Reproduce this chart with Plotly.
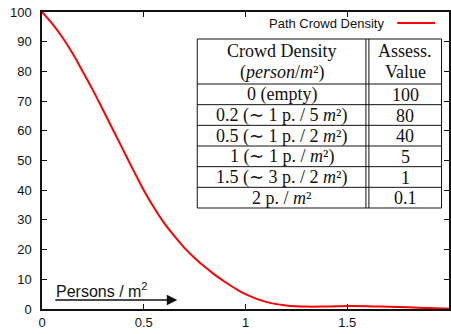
import plotly.graph_objects as go

# Assessment curve: crowd density (persons / m^2) -> assessment value,
# read at regular density steps (passes through the table's anchor values).
density = [0, 0.05, 0.1, 0.15, 0.2, 0.25, 0.3, 0.35, 0.4, 0.45, 0.5, 0.55, 0.6,
           0.65, 0.7, 0.75, 0.8, 0.85, 0.9, 0.95, 1.0, 1.1, 1.2, 1.3, 1.4, 1.5,
           1.6, 1.7, 1.8, 1.9, 2.0]
assess_value = [100, 96.1, 91.5, 86.1, 80, 73.7, 67.0, 60.2, 53.4, 46.6, 40, 34.2, 29.0,
                24.6, 20.6, 17.2, 14.2, 11.5, 9.1, 6.9, 5, 2.4, 1.2, 0.8, 0.85, 1,
                0.95, 0.75, 0.55, 0.3, 0.1]

# Lookup table shown inside the plot
table_header_left = ["Crowd Density", "(<i>person</i>/<i>m</i>²)"]
table_header_right = ["Assess.", "Value"]
table_density = [
    "0 (empty)",
    "0.2 (∼ 1 p. / 5 <i>m</i>²)",
    "0.5 (∼ 1 p. / 2 <i>m</i>²)",
    "1 (∼ 1 p. / <i>m</i>²)",
    "1.5 (∼ 3 p. / 2 <i>m</i>²)",
    "2 p. / <i>m</i>²",
]
table_values = ["100", "80", "40", "5", "1", "0.1"]

x_ticks = [0, 0.5, 1, 1.5]
x_tick_text = ["0", "0.5", "1", "1.5"]
y_ticks = list(range(0, 101, 10))

series_name = "Path Crowd Density"
x_caption = "Persons / m<sup>2</sup>"

W, H = 451, 334
ML, MR, MT, MB = 42, 0, 12, 25
PW, PH = W - ML - MR, H - MT - MB


def px(x):
    return (x - ML) / PW


def py(y):
    return (H - MB - y) / PH


fig = go.Figure()
fig.add_trace(go.Scatter(
    x=density, y=assess_value, mode="lines",
    line=dict(color="#ff0000", width=2, shape="spline", smoothing=1.0),
    name=series_name, showlegend=False, hoverinfo="x+y",
))

shapes = []
annotations = []

# Key: label on the left, line sample on the right
annotations.append(dict(
    xref="paper", yref="paper", x=px(388), y=py(23),
    xanchor="right", yanchor="middle", showarrow=False,
    text=series_name, font=dict(family="Liberation Sans, Arial", size=13, color="#111"),
))
shapes.append(dict(
    type="line", xref="paper", yref="paper",
    x0=px(399), x1=px(437), y0=py(23), y1=py(23),
    line=dict(color="#ff0000", width=2),
))

# Table frame
t_left, t_right = 198, 443.5
t_split_a, t_split_b = 367.5, 370.5
t_top, t_head, t_bottom = 39, 84, 208
n_rows = len(table_density)
row_h = (t_bottom - t_head) / n_rows
line_style = dict(color="#111", width=1)
shapes.append(dict(type="rect", xref="paper", yref="paper",
                   x0=px(t_left), x1=px(t_right), y0=py(t_bottom), y1=py(t_top),
                   line=line_style))
for xs in (t_split_a, t_split_b):
    shapes.append(dict(type="line", xref="paper", yref="paper",
                       x0=px(xs), x1=px(xs), y0=py(t_bottom), y1=py(t_top),
                       line=line_style))
for i in range(n_rows):
    yl = t_head + i * row_h
    shapes.append(dict(type="line", xref="paper", yref="paper",
                       x0=px(t_left), x1=px(t_right), y0=py(yl), y1=py(yl),
                       line=line_style))

serif = dict(family="Liberation Serif, Times New Roman, serif", size=18, color="#111")
c_left = (t_left + t_split_a) / 2
c_right = (t_split_b + t_right) / 2
head_lines_y = [51, 72]
for txt, yy in zip(table_header_left, head_lines_y):
    annotations.append(dict(xref="paper", yref="paper", x=px(c_left), y=py(yy),
                            xanchor="center", yanchor="middle", showarrow=False,
                            text=txt, font=serif))
for txt, yy in zip(table_header_right, head_lines_y):
    annotations.append(dict(xref="paper", yref="paper", x=px(c_right), y=py(yy),
                            xanchor="center", yanchor="middle", showarrow=False,
                            text=txt, font=serif))
for i, (dtxt, vtxt) in enumerate(zip(table_density, table_values)):
    yc = t_head + (i + 0.5) * row_h + 0.5
    annotations.append(dict(xref="paper", yref="paper", x=px(c_left), y=py(yc),
                            xanchor="center", yanchor="middle", showarrow=False,
                            text=dtxt, font=serif))
    annotations.append(dict(xref="paper", yref="paper", x=px(c_right), y=py(yc),
                            xanchor="center", yanchor="middle", showarrow=False,
                            text=vtxt, font=serif))

# Direction arrow with caption along the x axis
annotations.append(dict(
    xref="x", yref="y", axref="x", ayref="y",
    x=0.665, y=3, ax=0.058, ay=3,
    showarrow=True, arrowhead=2, arrowsize=1.4, arrowwidth=1.5, arrowcolor="#111",
    text="",
))
annotations.append(dict(
    xref="paper", yref="paper", x=px(54), y=py(290),
    xanchor="left", yanchor="middle", showarrow=False,
    text=x_caption, font=dict(family="Liberation Sans, Arial", size=16, color="#111"),
))

axis_font = dict(family="Liberation Sans, Arial", size=13, color="#111")
fig.update_layout(
    width=W, height=H,
    margin=dict(l=ML, r=MR, t=MT, b=MB, pad=0),
    paper_bgcolor="white", plot_bgcolor="white",
    shapes=shapes, annotations=annotations,
    xaxis=dict(
        range=[0, 2.0], tickvals=x_ticks, ticktext=x_tick_text,
        ticks="inside", ticklen=5, tickwidth=1, tickcolor="#111",
        showline=True, linecolor="#111", linewidth=1.5, mirror="ticks",
        showgrid=False, zeroline=False, tickfont=axis_font, ticklabelstandoff=1,
    ),
    yaxis=dict(
        range=[0, 100], tickvals=y_ticks,
        ticks="inside", ticklen=5, tickwidth=1, tickcolor="#111",
        showline=True, linecolor="#111", linewidth=1.5, mirror="ticks",
        showgrid=False, zeroline=False, tickfont=axis_font, ticklabelstandoff=6,
    ),
)

fig.write_html("out.html")
